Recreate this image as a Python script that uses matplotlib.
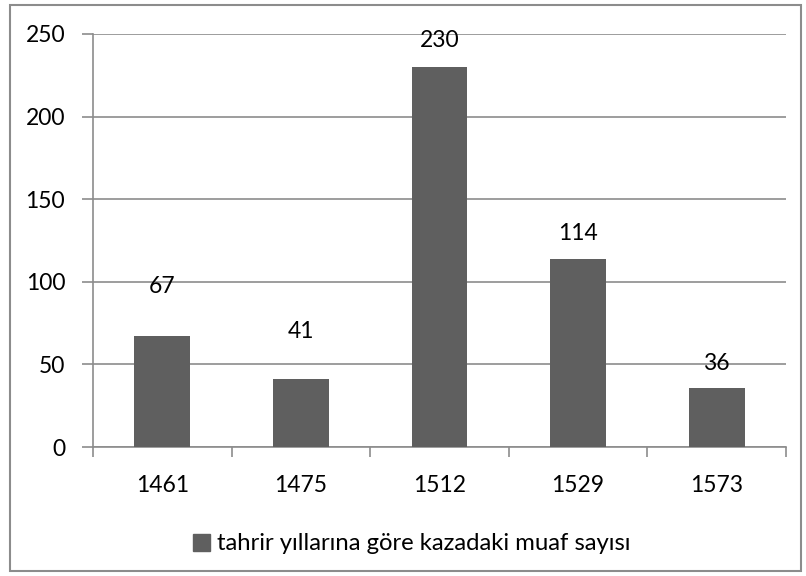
import matplotlib
matplotlib.use("Agg")
import matplotlib.pyplot as plt
from matplotlib.patches import Rectangle

categories = ["1461", "1475", "1512", "1529", "1573"]
values = [67, 41, 230, 114, 36]
series_name = "tahrir yıllarına göre kazadaki muaf sayısı"
yticks = [0, 50, 100, 150, 200, 250]
# label gap above bar (pixels), as placed in the reference
label_gap_px = [39, 37, 16, 15, 14]

plt.rcParams['font.family'] = ['Lato', 'DejaVu Sans']
FS = 16.5

W, H = 806, 576
fig = plt.figure(figsize=(W/100, H/100), dpi=100)
fig.patch.set_facecolor('white')

# chart border
fig.add_artist(Rectangle((10/W, 1 - 571/H), 791/W, 566/H, transform=fig.transFigure,
                         fill=False, edgecolor='#8c8c8c', linewidth=1.5))

ax = fig.add_axes([93/W, 1 - 447/H, (786-93)/W, (447-34)/H])
bar_color = '#5f5f5f'
x = range(len(categories))
bars = ax.bar(x, values, width=0.404, color=bar_color, zorder=3)
for xi, v, g in zip(x, values, label_gap_px):
    ax.annotate(str(v), (xi, v), xytext=(0, g * 0.72), textcoords='offset points',
                ha='center', va='bottom', fontsize=FS, color='black')

ax.set_xlim(-0.5, len(categories) - 0.5)
ax.set_ylim(0, 250)
ax.set_yticks(yticks)
ax.set_yticklabels([str(t) for t in yticks], fontsize=FS)
ax.yaxis.grid(True, color='#8c8c8c', linewidth=1.2, zorder=0)
ax.set_xticks([i - 0.5 for i in range(len(categories) + 1)])
ax.set_xticklabels([])
ax.set_xticks(list(x), minor=True)
ax.set_xticklabels(categories, minor=True, fontsize=FS)
ax.tick_params(axis='x', which='minor', length=0, pad=20)
ax.tick_params(axis='x', which='major', length=7, width=1.2, color='#8c8c8c', direction='out')
ax.tick_params(axis='y', length=8, width=1.2, color='#8c8c8c', direction='out', pad=12)
for s in ['top', 'right']:
    ax.spines[s].set_visible(False)
for s in ['left', 'bottom']:
    ax.spines[s].set_color('#8c8c8c')
    ax.spines[s].set_linewidth(1.2)

# legend
leg = fig.legend([Rectangle((0, 0), 1, 1, color=bar_color)], [series_name],
                 loc='center', bbox_to_anchor=(412/W, 1 - 544/H), frameon=False,
                 fontsize=17.2, handlelength=0.7, handleheight=0.7, handletextpad=0.3)

fig.savefig("out.png", dpi=100)
